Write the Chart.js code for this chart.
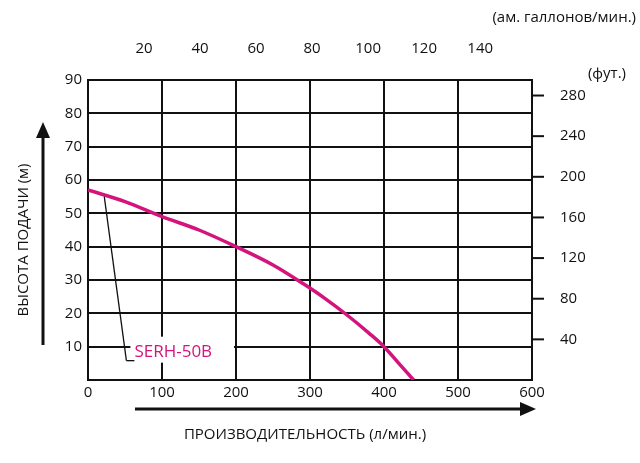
<!DOCTYPE html><html><head><meta charset="utf-8">
<script src="https://cdn.jsdelivr.net/npm/chart.js@4/dist/chart.umd.min.js"></script>
<style>body{margin:0;background:#fff}#w{width:640px;height:463px}</style></head><body><div id="w"><canvas id="c"></canvas></div>
<script>
const flowLpm=[0,50,100,150,200,250,290,320,350,380,400,420,440];
const headM=[57,53.5,49,45,40,34.5,29,24.5,19.5,14,10,5,0];
const gallonTicks=[20,40,60,80,100,120,140];
const feetTicks=[40,80,120,160,200,240,280];
const seriesName="SERH-50B";
const F="'Open Sans', sans-serif";
const tickFont={family:F,size:15};
const deco={id:'deco',afterDraw(ch){const c=ch.ctx,a=ch.chartArea,x=ch.scales.x,y=ch.scales.y,y2=ch.scales.y2;c.save();
c.fillStyle='#111';c.font="15px "+F;
c.textAlign='right';c.fillText('(ам. галлонов/мин.)',636,22);
c.fillText('(фут.)',626,78);
c.textAlign='center';c.fillText('ПРОИЗВОДИТЕЛЬНОСТЬ (л/мин.)',305,439);
c.save();c.translate(28,240);c.rotate(-Math.PI/2);c.fillText('ВЫСОТА ПОДАЧИ (м)',0,0);c.restore();
c.strokeStyle='#111';c.lineWidth=2;
feetTicks.forEach(v=>{const py=y2.getPixelForValue(v);c.beginPath();c.moveTo(a.right,py);c.lineTo(a.right+12,py);c.stroke();});
c.lineWidth=3;
c.beginPath();c.moveTo(43,345);c.lineTo(43,135);c.stroke();
c.beginPath();c.moveTo(36,138);c.lineTo(43,122);c.lineTo(50,138);c.closePath();c.fill();
c.beginPath();c.moveTo(135,409);c.lineTo(522,409);c.stroke();
c.beginPath();c.moveTo(520,402);c.lineTo(536,409);c.lineTo(520,416);c.closePath();c.fill();
c.lineWidth=1.3;const lx=x.getPixelForValue(60),ly=y.getPixelForValue(7);
c.fillStyle='#fff';c.fillRect(lx-2,ly-20,x.getPixelForValue(200)-lx,26);
c.beginPath();c.moveTo(x.getPixelForValue(22),y.getPixelForValue(55));c.lineTo(lx-6,ly+4);c.stroke();
c.beginPath();c.moveTo(lx-6,ly+4);c.lineTo(lx+2,ly+4);c.stroke();
c.fillStyle='#d4147c';c.textAlign='left';c.font="17px "+F;c.fillText(seriesName,lx+2,ly);
c.restore();}};
new Chart(document.getElementById('c'),{type:'line',
data:{datasets:[{data:flowLpm.map((v,i)=>({x:v,y:headM[i]})),borderColor:'#d4147c',borderWidth:3.5,pointRadius:0,cubicInterpolationMode:'monotone'}]},
options:{responsive:true,maintainAspectRatio:false,animation:false,plugins:{legend:{display:false},tooltip:{enabled:false}},
layout:{padding:0},
scales:{
x:{type:'linear',min:0,max:600,position:'bottom',ticks:{stepSize:100,font:tickFont,color:'#111',padding:4},grid:{color:'#111',lineWidth:2,drawTicks:false},border:{color:'#111',width:2},afterFit(s){s.height=83}},
x2:{type:'linear',min:0,max:600*0.26417,position:'top',afterBuildTicks(s){s.ticks=gallonTicks.map(v=>({value:v}))},ticks:{autoSkip:false,font:tickFont,color:'#111',padding:14},grid:{display:false},border:{display:false},afterFit(s){s.height=80}},
y:{type:'linear',min:0,max:90,ticks:{stepSize:10,font:tickFont,color:'#111',padding:6,callback:v=>v>0?v:''},grid:{color:'#111',lineWidth:2,drawTicks:false},border:{color:'#111',width:2},afterFit(s){s.width=88}},
y2:{type:'linear',min:0,max:90*3.28084,position:'right',afterBuildTicks(s){s.ticks=feetTicks.map(v=>({value:v}))},ticks:{autoSkip:false,font:tickFont,color:'#111',padding:20},grid:{display:false},border:{color:'#111',width:2},afterFit(s){s.width=108}}
}},plugins:[deco]});
</script></body></html>
